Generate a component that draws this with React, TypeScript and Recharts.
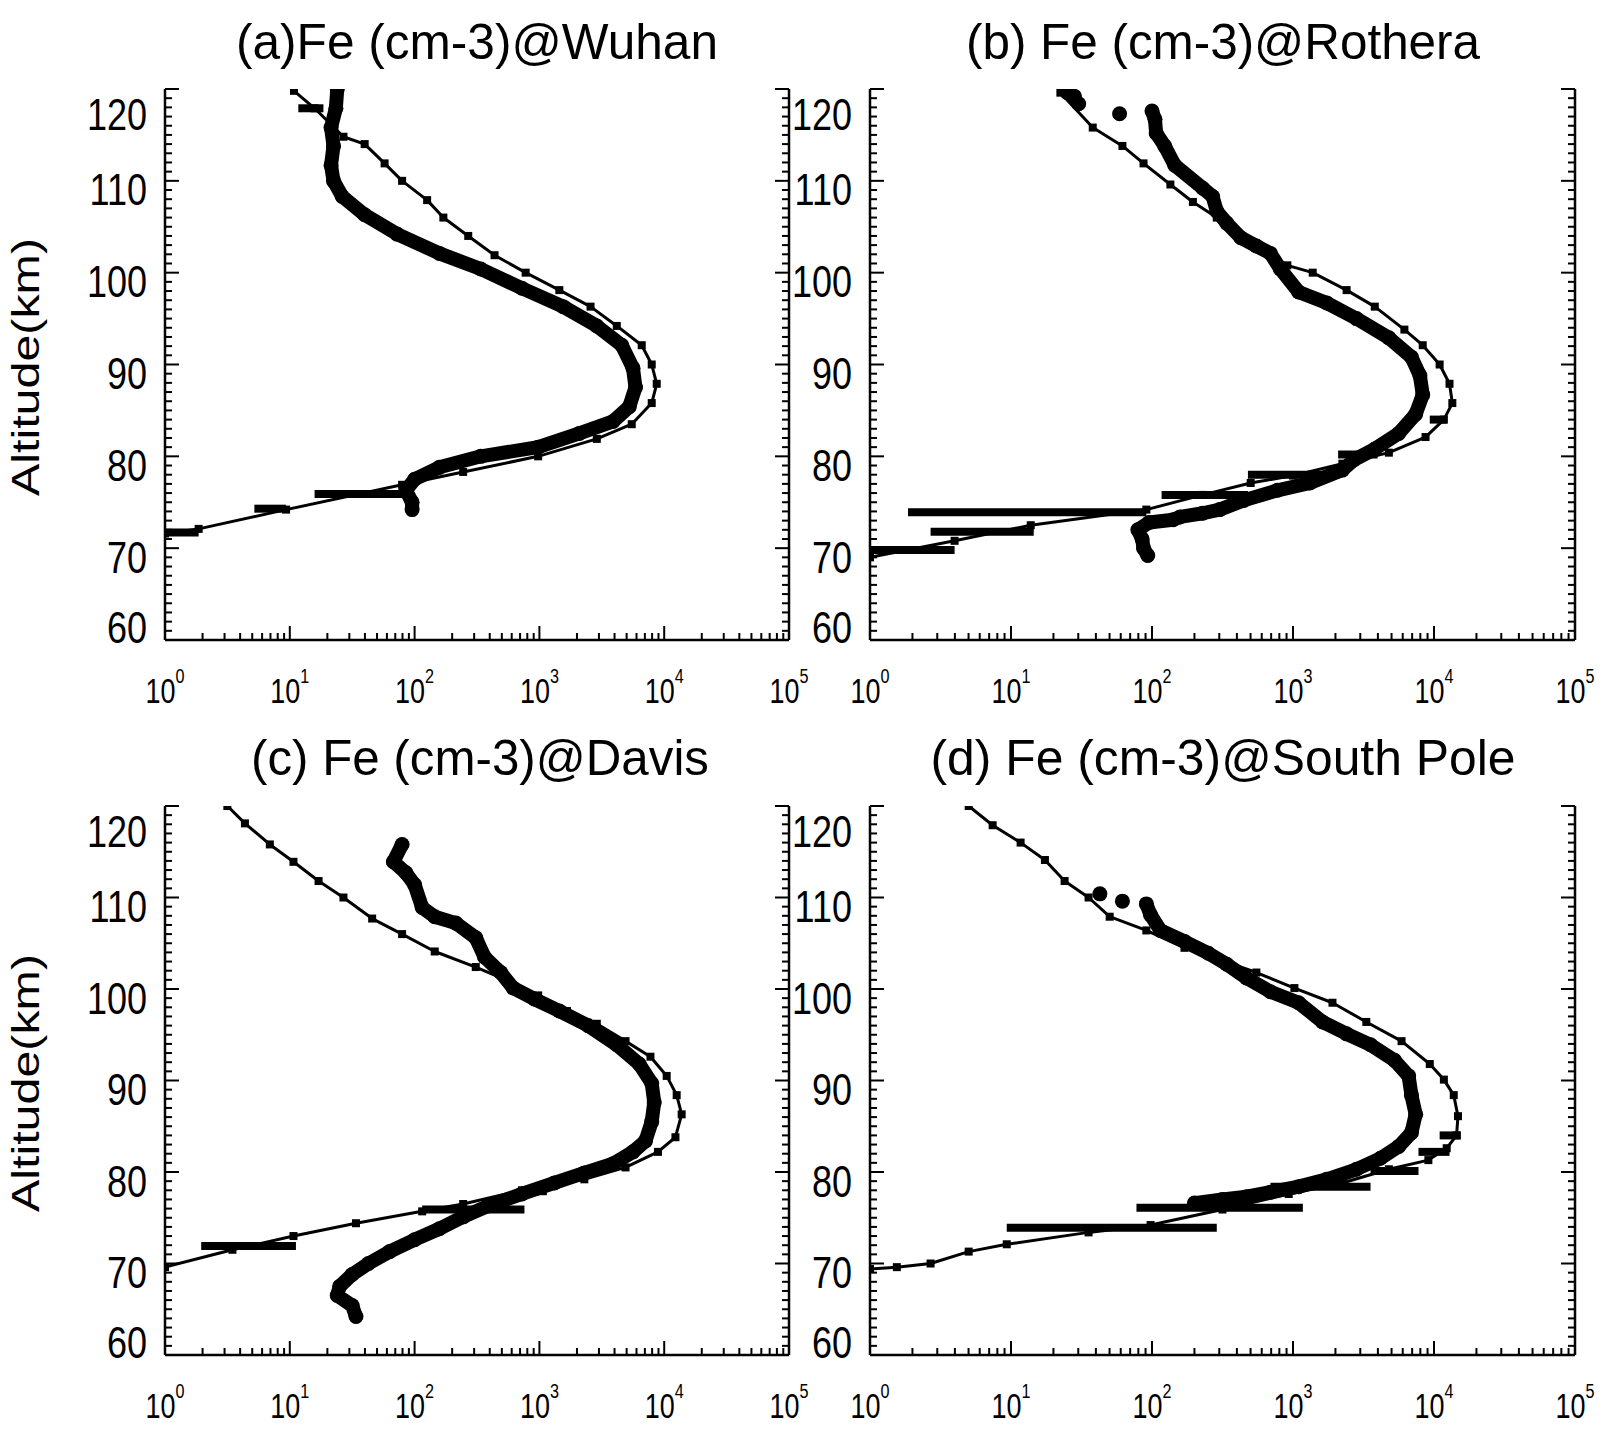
import { ScatterChart, Scatter, XAxis, YAxis } from "recharts";

const panelTitles = [
  "(a)Fe (cm-3)@Wuhan",
  "(b) Fe (cm-3)@Rothera",
  "(c) Fe (cm-3)@Davis",
  "(d) Fe (cm-3)@South Pole",
];
const yAxisTitle = "Altitude(km)";

const xMajorTicks = [1, 10, 100, 1000, 10000, 100000];
const xTickExponents = ["0", "1", "2", "3", "4", "5"];
const xMinorTicks = [
  2, 3, 4, 5, 6, 7, 8, 9,
  20, 30, 40, 50, 60, 70, 80, 90,
  200, 300, 400, 500, 600, 700, 800, 900,
  2000, 3000, 4000, 5000, 6000, 7000, 8000, 9000,
  20000, 30000, 40000, 50000, 60000, 70000, 80000, 90000,
];
const yMajorTicks = [60, 70, 80, 90, 100, 110, 120];
const yAllTicks = Array.from({ length: 61 }, (_, i) => 60 + i);

// [altitude km, Fe cm-3]
const wuhanModel = [
  [119.8, 10.8], [117.9, 15.8], [114.8, 26.9], [114.0, 39.8], [111.9, 57.5],
  [110.0, 79.4], [107.9, 126], [106.0, 170], [104.0, 269], [101.9, 437],
  [100.0, 776], [98.1, 1445], [96.3, 2570], [94.2, 4169], [92.1, 6607],
  [90.0, 7943], [87.9, 8710], [85.8, 7943], [83.5, 5495], [81.9, 2884],
  [80.0, 977], [78.3, 245], [76.9, 79.4], [74.2, 9.33], [72.1, 1.86], [71.6, 1],
];
const wuhanObs = [
  [120.0, 24.0], [117.9, 23.4], [115.8, 21.4], [113.8, 22.4], [111.7, 21.4],
  [110.0, 22.4], [108.3, 26.3], [106.3, 39.8], [104.2, 72.4], [102.1, 158],
  [100.4, 339], [98.3, 724], [96.3, 1549], [94.2, 2884], [92.1, 4571],
  [89.6, 5623], [87.5, 5888], [85.4, 5248], [83.8, 3890], [82.5, 2089],
  [81.0, 977], [80.0, 339], [78.8, 158], [77.5, 100], [76.3, 85.1],
  [75.0, 95.5], [74.2, 95.5],
];
const wuhanDots: number[][] = [];
// [altitude km, low Fe, high Fe]
const wuhanBars = [
  [117.9, 11.7, 18.6], [75.9, 15.8, 79.4], [74.3, 5.2, 9.3], [71.7, 1, 1.86],
];

const rotheraModel = [
  [119.6, 22.4], [115.8, 38.0], [113.8, 61.7], [111.9, 87.1], [109.6, 135],
  [107.7, 195], [106.0, 288], [104.0, 427], [102.5, 617], [100.8, 912],
  [100.0, 1380], [98.1, 2399], [96.3, 3802], [93.8, 6166], [92.1, 8318],
  [90.0, 10965], [87.9, 12882], [85.8, 13490], [84.0, 11749], [82.1, 8710],
  [80.4, 4786], [79.2, 2239], [77.9, 1000], [77.1, 501], [75.8, 229],
  [74.2, 91.2], [72.5, 13.8], [70.8, 3.98], [69.0, 1],
];
const rotheraObs = [
  [117.6, 100], [116.7, 105], [115.2, 107],
  [113.8, 123], [111.7, 145], [109.2, 229], [108.3, 269], [106.7, 288],
  [105.4, 339], [103.8, 427], [102.9, 550], [102.1, 692], [100.4, 813],
  [97.9, 1096], [96.7, 1738], [95.0, 2818], [92.9, 4786], [90.8, 6918],
  [88.8, 7943], [86.7, 8318], [84.6, 7413], [82.5, 5623], [80.8, 3802],
  [79.6, 2692], [78.5, 2239], [77.1, 1318], [76.3, 776], [75.2, 447],
  [74.2, 302], [73.8, 229], [73.4, 158], [73.1, 141], [72.8, 95.5],
  [72.0, 79.4], [71.0, 85.1], [70.0, 87.1], [69.2, 93.3],
];
const rotheraDots = [
  [119.6, 25.1], [119.2, 28.2], [118.4, 30.2], [117.3, 58.9],
];
const rotheraBars = [
  [84.0, 9333, 12303], [80.2, 2089, 3981], [78.0, 479, 2138], [75.8, 117, 479],
  [73.9, 1.86, 91.2], [71.8, 2.69, 14.5], [69.8, 1, 3.98],
];

const davisModel = [
  [120.0, 3.16], [118.1, 4.37], [115.8, 6.92], [113.9, 10.7], [111.8, 17.0],
  [110.0, 26.9], [107.7, 45.7], [106.0, 79.4], [104.1, 145], [102.4, 309],
  [101.0, 537], [99.3, 977], [97.6, 1660], [96.2, 2884], [94.3, 4898],
  [92.6, 7762], [90.5, 10470], [88.4, 12589], [86.3, 13804], [83.8, 12303],
  [82.2, 8913], [80.5, 4898], [79.2, 2291], [78.0, 724], [76.5, 245],
  [75.7, 115], [74.4, 33.9], [73.0, 10.7], [71.5, 3.47], [69.6, 1],
];
const davisObs = [
  [115.8, 79.4], [113.9, 67.6], [112.7, 85.1], [111.4, 100], [108.9, 115],
  [107.9, 145], [107.2, 214], [105.6, 309], [103.5, 363], [101.8, 490],
  [100.1, 617], [98.9, 912], [97.6, 1445], [96.0, 2455], [93.9, 4169],
  [91.8, 6310], [89.7, 7943], [87.6, 8318], [85.5, 7943], [83.4, 7079],
  [82.2, 5623], [80.9, 3890], [79.9, 2291], [78.8, 1318], [77.6, 724],
  [76.3, 389], [75.1, 245], [73.8, 158], [72.6, 100], [71.3, 63.1],
  [70.0, 42.7], [68.8, 31.6], [67.5, 25.1], [66.5, 24.0], [65.4, 31.6], [64.2, 33.9],
];
const davisDots: number[][] = [];
const davisBars = [
  [77.9, 759, 1148], [75.9, 115, 759], [71.9, 1.95, 11.2],
];

const southPoleModel = [
  [120.0, 5.01], [117.9, 7.41], [116.0, 11.7], [114.1, 17.4], [111.8, 24.0],
  [110.0, 35.5], [107.9, 50.1], [106.4, 91.2], [104.5, 170], [103.1, 316],
  [101.8, 550], [100.1, 1023], [98.5, 1905], [96.4, 3311], [94.3, 5888],
  [91.8, 9333], [90.1, 11749], [88.4, 13804], [86.1, 14791], [84.0, 14454],
  [82.6, 12303], [81.3, 9120], [80.3, 4786], [78.8, 2239], [77.6, 933],
  [75.9, 316], [74.2, 97.7], [73.4, 35.5], [72.1, 9.33], [71.3, 5.01],
  [70.0, 2.69], [69.6, 1.55], [69.4, 1],
];
const southPoleObs = [
  [109.3, 91.2], [108.1, 97.7], [106.4, 115],
  [105.2, 170], [103.9, 251], [102.7, 339], [101.2, 468], [99.7, 692],
  [98.5, 1096], [96.4, 1622], [95.1, 2399], [93.9, 3548], [92.2, 5248],
  [90.5, 6607], [88.4, 6918], [86.3, 7413], [84.3, 6918], [82.8, 5623],
  [81.5, 4169], [80.3, 2818], [79.2, 1738], [78.4, 1096], [77.8, 692],
  [77.3, 468], [77.0, 316], [76.6, 200],
];
const southPoleDots = [
  [110.4, 42.7], [109.6, 61.7],
];
const southPoleBars = [
  [84.0, 10965, 15488], [82.2, 7762, 12882], [80.1, 3548, 7762],
  [78.4, 692, 3548], [76.1, 77.6, 1175], [73.9, 9.33, 288],
];

const FONT = "'Liberation Sans', Arial, Helvetica, sans-serif";

const panels = [
  { title: panelTitles[0], model: wuhanModel, obs: wuhanObs, dots: wuhanDots, bars: wuhanBars,
    left: 0, top: 0, width: 830, height: 722, margin: { top: 89, left: 164, right: 40, bottom: 81 },
    titleX: 477, titleY: 59, titleW: 482, yTitle: true, yTitleY: 367 },
  { title: panelTitles[1], model: rotheraModel, obs: rotheraObs, dots: rotheraDots, bars: rotheraBars,
    left: 791, top: 0, width: 813, height: 722, margin: { top: 89, left: 78, right: 28, bottom: 81 },
    titleX: 432, titleY: 59, titleW: 514, yTitle: false, yTitleY: 0 },
  { title: panelTitles[2], model: davisModel, obs: davisObs, dots: davisDots, bars: davisBars,
    left: 0, top: 722, width: 830, height: 713, margin: { top: 84, left: 164, right: 40, bottom: 79 },
    titleX: 480, titleY: 53, titleW: 458, yTitle: true, yTitleY: 361 },
  { title: panelTitles[3], model: southPoleModel, obs: southPoleObs, dots: southPoleDots, bars: southPoleBars,
    left: 791, top: 722, width: 813, height: 713, margin: { top: 84, left: 78, right: 28, bottom: 79 },
    titleX: 432, titleY: 53, titleW: 585, yTitle: false, yTitleY: 0 },
];

const toPoints = (rows: number[][]) => rows.map(([alt, fe]) => ({ alt, fe }));

function XTick(props: any) {
  const { x, y, payload } = props;
  const i = xMajorTicks.indexOf(payload.value);
  if (i < 0) {
    return <line x1={x} x2={x} y1={y} y2={y - 7} stroke="#000" strokeWidth={2} />;
  }
  return (
    <g>
      <line x1={x} x2={x} y1={y} y2={y - 14} stroke="#000" strokeWidth={2} />
      <text
        transform={`translate(${x},${y + 63}) scale(0.77,1)`}
        textAnchor="middle"
        fontSize={35}
        fontFamily={FONT}
        fill="#000"
      >
        10
        <tspan fontSize={21} dy={-20}>
          {xTickExponents[i]}
        </tspan>
      </text>
    </g>
  );
}

function YTickLeft(props: any) {
  const { x, y, payload } = props;
  const v = payload.value;
  const major = yMajorTicks.includes(v);
  const off = v === 120 ? 41 : v === 60 ? 3 : 24.5;
  return (
    <g>
      <line x1={x} x2={x + (major ? 14 : 7)} y1={y} y2={y} stroke="#000" strokeWidth={2} />
      {major && (
        <text
          transform={`translate(${x - 18},${y + off}) scale(0.8,1)`}
          textAnchor="end"
          fontSize={45}
          fontFamily={FONT}
          fill="#000"
        >
          {v}
        </text>
      )}
    </g>
  );
}

function YTickRight(props: any) {
  const { x, y, payload } = props;
  const major = yMajorTicks.includes(payload.value);
  return <line x1={x} x2={x - (major ? 14 : 7)} y1={y} y2={y} stroke="#000" strokeWidth={2} />;
}

const ObsDot = (p: any) => <circle cx={p.cx} cy={p.cy} r={7.5} fill="#000" />;
const ModelMark = (p: any) => <rect x={p.cx - 4} y={p.cy - 4} width={8} height={8} fill="#000" />;
const NoMark = () => <g />;

function Panel({ cfg }: { cfg: (typeof panels)[number] }) {
  return (
    <div style={{ position: "absolute", left: cfg.left, top: cfg.top }}>
      <ScatterChart width={cfg.width} height={cfg.height} margin={cfg.margin}>
        <XAxis
          type="number"
          dataKey="fe"
          scale="log"
          domain={[1, 100000]}
          allowDataOverflow
          ticks={[...xMajorTicks, ...xMinorTicks]}
          interval={0}
          height={1}
          tickSize={0}
          tickMargin={0}
          tickLine={false}
          tick={XTick}
          axisLine={{ stroke: "#000", strokeWidth: 2.5 }}
        />
        <YAxis
          type="number"
          dataKey="alt"
          domain={[60, 120]}
          allowDataOverflow
          ticks={yAllTicks}
          interval={0}
          width={1}
          tickSize={0}
          tickMargin={0}
          tickLine={false}
          tick={YTickLeft}
          axisLine={{ stroke: "#000", strokeWidth: 2.5 }}
        />
        <YAxis
          yAxisId="r"
          orientation="right"
          type="number"
          domain={[60, 120]}
          allowDataOverflow
          ticks={yAllTicks}
          interval={0}
          width={1}
          tickSize={0}
          tickMargin={0}
          tickLine={false}
          tick={YTickRight}
          axisLine={{ stroke: "#000", strokeWidth: 2.5 }}
        />
        <Scatter
          data={toPoints(cfg.obs)}
          isAnimationActive={false}
          line={{ stroke: "#000", strokeWidth: 14, strokeLinejoin: "round", strokeLinecap: "round" }}
          shape={ObsDot}
        />
        <Scatter data={toPoints(cfg.dots)} isAnimationActive={false} shape={ObsDot} />
        <Scatter
          data={toPoints(cfg.model)}
          isAnimationActive={false}
          line={{ stroke: "#000", strokeWidth: 3, strokeLinejoin: "round" }}
          shape={ModelMark}
        />
        {cfg.bars.map(([alt, lo, hi], i) => (
          <Scatter
            key={i}
            data={[{ alt, fe: lo }, { alt, fe: hi }]}
            isAnimationActive={false}
            line={{ stroke: "#000", strokeWidth: 8 }}
            shape={NoMark}
          />
        ))}
        <text
          x={cfg.titleX}
          y={cfg.titleY}
          textAnchor="middle"
          fontSize={50}
          fontFamily={FONT}
          textLength={cfg.titleW}
          lengthAdjust="spacingAndGlyphs"
          fill="#000"
        >
          {cfg.title}
        </text>
        {cfg.yTitle && (
          <text
            transform={`translate(39,${cfg.yTitleY}) rotate(-90) scale(1,0.8)`}
            textAnchor="middle"
            fontSize={48}
            fontFamily={FONT}
            textLength={258}
            lengthAdjust="spacingAndGlyphs"
            fill="#000"
          >
            {yAxisTitle}
          </text>
        )}
      </ScatterChart>
    </div>
  );
}

export default function App() {
  return (
    <div
      style={{
        position: "absolute",
        left: 0,
        top: 0,
        width: 1604,
        height: 1435,
        background: "#fff",
        fontFamily: FONT,
      }}
    >
      {panels.map((p, i) => (
        <Panel key={i} cfg={p} />
      ))}
    </div>
  );
}
